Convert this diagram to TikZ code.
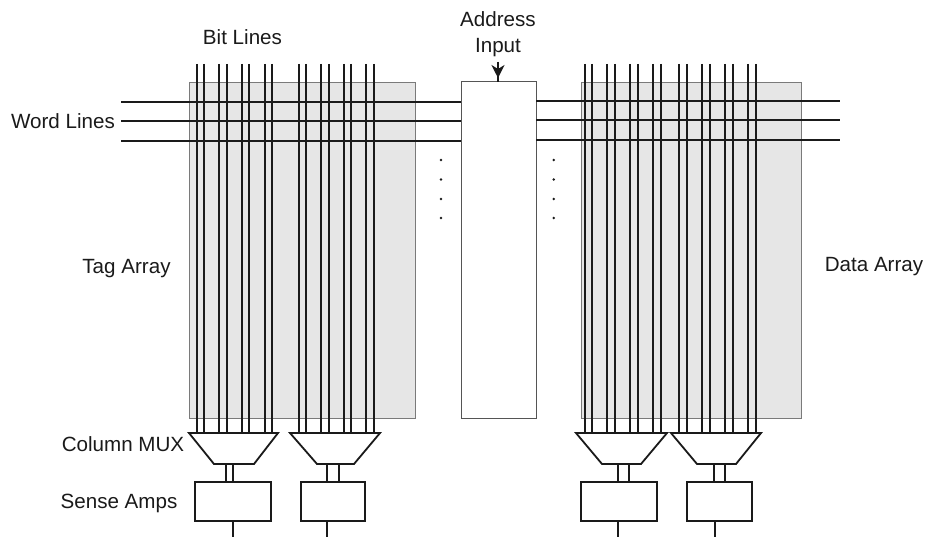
\documentclass[tikz,border=0pt]{standalone}
\usepackage{fontspec}
\setmainfont{Liberation Sans}
\usetikzlibrary{arrows.meta}
\definecolor{inkc}{HTML}{1A1A1A}
\definecolor{arrayfill}{HTML}{E6E6E6}
\definecolor{arrayedge}{HTML}{7A7A7A}
\newcommand{\muxoutline}[3]{\draw[wire] (#1.north west) -- (#1.north east) -- ([xshift=-#3pt]#1.south east) -- ([xshift=#2pt]#1.south west) -- cycle;}
\begin{document}
\begin{tikzpicture}[x=1pt,y=-1pt,
  wire/.style={draw=inkc,line width=1.8pt,line join=miter},
  thinwire/.style={draw=inkc,line width=1.4pt},
  arraybox/.style={draw=arrayedge,line width=0.9pt,fill=arrayfill,inner sep=0,outer sep=0,minimum height=336pt,anchor=north west},
  decoder/.style={draw=arrayedge!70!black,line width=1pt,fill=white,inner sep=0,outer sep=0,minimum height=336pt,anchor=north west},
  muxframe/.style={inner sep=0,outer sep=0,minimum height=31pt,anchor=north west},
  senseamp/.style={wire,fill=white,inner sep=0,outer sep=0,minimum height=38.4pt,anchor=north west},
  lbl/.style={text=inkc,font=\fontsize{20.6pt}{26.5pt}\selectfont,inner sep=0,align=center},
  vdot/.style={circle,fill=inkc,inner sep=0,minimum size=2.8pt}]
\useasboundingbox (0,0) rectangle (925,537);
% arrays and decoder
\node[arraybox,minimum width=226pt] (tagarr) at (189,82) {};
\node[arraybox,minimum width=220pt] (dataarr) at (581,82) {};
\node[decoder,minimum width=75pt] (addr) at (461,82) {};
% muxes
\node[muxframe,minimum width=89pt] (m1) at (189,433) {};
\node[muxframe,minimum width=90pt] (m2) at (290,433) {};
\node[muxframe,minimum width=91pt] (m3) at (576,433) {};
\node[muxframe,minimum width=90pt] (m4) at (671,433) {};
\muxoutline{m1}{25}{24}
\muxoutline{m2}{27}{26}
\muxoutline{m3}{26}{26}
\muxoutline{m4}{26}{25}
% sense amps
\node[senseamp,minimum width=76.3pt] (b1) at (195,482.3) {};
\node[senseamp,minimum width=63.7pt] (b2) at (301.3,482.3) {};
\node[senseamp,minimum width=76pt] (b3) at (581.3,482.3) {};
\node[senseamp,minimum width=64.4pt] (b4) at (687.3,482.3) {};
% free ends
\coordinate (bt) at (0,64);
\coordinate (ob) at (0,537);
\coordinate (wla) at (121,102);
\coordinate (wlb) at (121,121);
\coordinate (wlc) at (121,141);
\coordinate (wra) at (840,101);
\coordinate (wrb) at (840,120);
\coordinate (wrc) at (840,140);
% word lines
\draw[wire] (wla) -- (addr.west |- wla);
\draw[wire] (wlb) -- (addr.west |- wlb);
\draw[wire] (wlc) -- (addr.west |- wlc);
\draw[wire] (addr.east |- wra) -- (wra);
\draw[wire] (addr.east |- wrb) -- (wrb);
\draw[wire] (addr.east |- wrc) -- (wrc);
% bit lines
\foreach \x in {196.7,204,219.3,227,241.7,249.3,264.7,272.3}
  \draw[wire] (\x,0 |- bt) -- (\x,0 |- m1.north);
\foreach \x in {299,306.3,320.7,328.7,343.7,351.3,366,373.7}
  \draw[wire] (\x,0 |- bt) -- (\x,0 |- m2.north);
\foreach \x in {584.7,592,607,615,630,637.7,653,660.7}
  \draw[wire] (\x,0 |- bt) -- (\x,0 |- m3.north);
\foreach \x in {679,686.7,702,710,724.7,732.7,748,755.7}
  \draw[wire] (\x,0 |- bt) -- (\x,0 |- m4.north);
% stems between mux and sense amp
\foreach \x in {225.7,233} \draw[wire] (\x,0 |- m1.south) -- (\x,0 |- b1.north);
\foreach \x in {327,339} \draw[wire] (\x,0 |- m2.south) -- (\x,0 |- b2.north);
\foreach \x in {617.7,629} \draw[wire] (\x,0 |- m3.south) -- (\x,0 |- b3.north);
\foreach \x in {714,725.3} \draw[wire] (\x,0 |- m4.south) -- (\x,0 |- b4.north);
% outputs
\draw[wire] (233,0 |- b1.south) -- (233,0 |- ob);
\draw[wire] (327,0 |- b2.south) -- (327,0 |- ob);
\draw[wire] (617.7,0 |- b3.south) -- (617.7,0 |- ob);
\draw[wire] (715.3,0 |- b4.south) -- (715.3,0 |- ob);
% address arrow
\coordinate (ain) at (498,62);
\coordinate (atip) at (498,78);
\draw[thinwire] (ain) -- (498,0 |- addr.north);
\draw[thinwire,-{Stealth[length=13pt,width=13pt,inset=4pt]}] (ain) -- (atip);
% dots
\foreach \y [count=\i] in {160,179.5,199,218} {
  \node[vdot] (dl\i) at (441,\y) {};
  \node[vdot] (dr\i) at (553.7,\y) {};
}
% labels
\node[lbl] (tbit) at (242.5,37) {Bit Lines};
\node[lbl] (taddr) at (498,34) {Address\\Input};
\node[lbl] (tword) at (63,121) {Word Lines};
\node[lbl] (ttag) at (126.5,268.5) {Tag Array};
\node[lbl] (tdata) at (874,267) {Data Array};
\node[lbl] (tmux) at (123,444) {Column MUX};
\node[lbl] (tamp) at (119,503.5) {Sense Amps};
\end{tikzpicture}
\end{document}
